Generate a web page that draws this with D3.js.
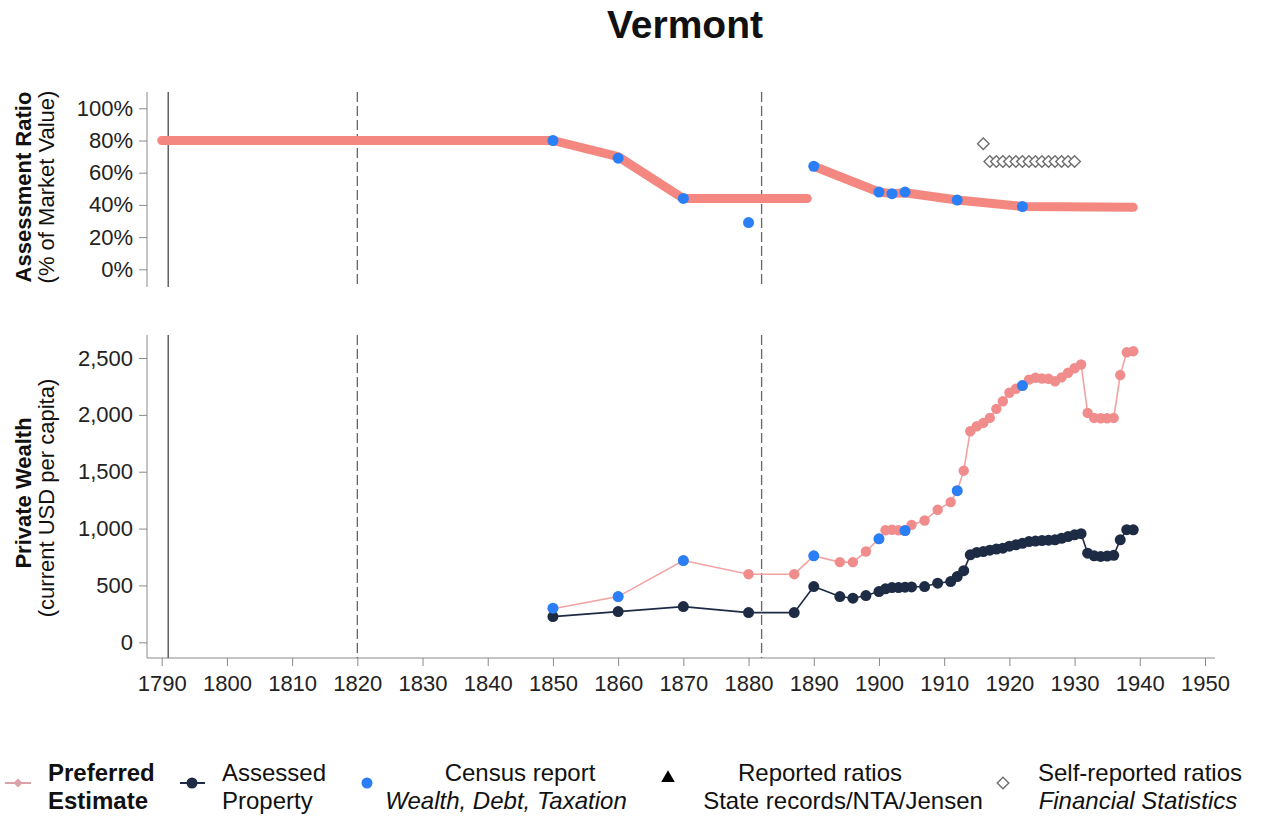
<!DOCTYPE html>
<html><head><meta charset="utf-8">
<script src="https://cdn.jsdelivr.net/npm/d3@7"></script>
<style>
body{margin:0;background:#fff}
text{font-family:"Liberation Sans",Arial,Helvetica,sans-serif;fill:#111}
</style>
</head><body>
<svg id="c" width="1267" height="816"></svg>
<script>
// ---------- DATA ----------
const chartTitle = "Vermont";
const xTicks = [1790,1800,1810,1820,1830,1840,1850,1860,1870,1880,1890,1900,1910,1920,1930,1940,1950];
const ratioTicks = [0,20,40,60,80,100];
const wealthTicks = [0,500,1000,1500,2000,2500];
const solidLineYears = [1791];
const dashedLineYears = [1820,1882];

// Top panel: preferred assessment ratio (%), two segments
const ratioYears1 = [1790,1850,1860,1870,1889];
const ratioVals1  = [80,80,70,44,44];
const ratioYears2 = [1890,1900,1902,1904,1912,1922,1939];
const ratioVals2  = [64,48,47,47.5,43,39,38.5];
// Census report ratios
const censusRatioYears = [1850,1860,1870,1880,1890,1900,1902,1904,1912,1922];
const censusRatioVals  = [80,69,44,29,64,48,47,48,43,39];
// Self-reported ratios (Financial Statistics)
const selfRatioYears = [1916,1917,1918,1919,1920,1921,1922,1923,1924,1925,1926,1927,1928,1929,1930];
const selfRatioVals  = [78,67,67,67,67,67,67,67,67,67,67,67,67,67,67];

// Bottom panel: private wealth per capita
const wealthYears = [1850,1860,1870,1880,1887,1890,1894,1896,1898,1900,1901,1902,1903,1904,1905,1907,1909,1911,1912,
  1913,1914,1915,1916,1917,1918,1919,1920,1921,1922,1923,1924,1925,1926,1927,1928,1929,1930,1931,1932,1933,1934,1935,1936,1937,1938,1939];
const preferredWealth = [295,402,719,599,599,760,705,705,798,910,985,990,985,983,1033,1071,1166,1233,1333,
  1509,1856,1900,1929,1973,2053,2120,2194,2230,2258,2310,2326,2320,2317,2296,2330,2370,2410,2443,2017,1973,1970,1970,1973,2350,2550,2560];
const assessedWealth = [226,270,314,261,261,490,402,388,411,446,470,481,481,485,487,490,520,534,578,
  630,769,790,798,810,820,828,845,857,870,886,890,895,898,901,915,930,945,955,784,760,755,758,765,901,990,989];
const censusWealthYears = [1850,1860,1870,1890,1900,1904,1912,1922];
const censusWealthVals  = [300,402,719,760,910,983,1333,2258];

// Legend
const legendLines1 = ["Preferred","Assessed","Census report","Reported ratios","Self-reported ratios"];
const legendLines2 = ["Estimate","Property","Wealth, Debt, Taxation","State records/NTA/Jensen","Financial Statistics"];

// ---------- STYLE ----------
const C = {pinkThick:"#f4877f", pink:"#f08c8c", pinkLine:"#f3a2a2", navy:"#1e2b44", blue:"#2b7ff6", grey:"#6f6f6f", axis:"#8a8a8a"};

const svg = d3.select("#c");
const x = d3.scaleLinear().domain([1790,1950]).range([161.7,1205]);
const yR = d3.scaleLinear().domain([0,100]).range([269.3,108.3]);
const yW = d3.scaleLinear().domain([0,2500]).range([642.3,358]);
const axisX = 147;

// title
svg.append("text").attr("x",685).attr("y",38).attr("text-anchor","middle")
  .style("font-size","39px").style("font-weight","bold").text(chartTitle);

// ----- y axes -----
function yAxis(scale, ticks, fmt, top, bottom){
  const g = svg.append("g").attr("transform",`translate(${axisX},0)`);
  g.call(d3.axisLeft(scale).tickValues(ticks).tickFormat(fmt).tickSize(8).tickPadding(6));
  g.select(".domain").remove();
  g.selectAll(".tick line").attr("stroke",C.axis);
  g.selectAll(".tick text").style("font-size","22px").style("fill","#222").attr("font-family",null);
  svg.append("line").attr("x1",axisX).attr("x2",axisX).attr("y1",top).attr("y2",bottom).attr("stroke",C.axis).attr("stroke-width",1);
}
yAxis(yR, ratioTicks, d=>d+"%", 92, 287);
yAxis(yW, wealthTicks, d3.format(","), 335, 658);

// x axis
const gx = svg.append("g").attr("transform","translate(0,658)");
gx.call(d3.axisBottom(x).tickValues(xTicks).tickFormat(d3.format("d")).tickSize(8).tickPadding(9));
gx.select(".domain").remove();
gx.selectAll(".tick line").attr("stroke",C.axis);
gx.selectAll(".tick text").style("font-size","22px").style("fill","#222").attr("font-family",null);
svg.append("line").attr("x1",axisX).attr("x2",1215).attr("y1",658).attr("y2",658).attr("stroke",C.axis);

// axis titles
function yTitle(cx, cy, txt, bold){
  svg.append("text").attr("transform",`translate(${cx},${cy}) rotate(-90)`).attr("text-anchor","middle")
    .style("font-size","22px").style("font-weight",bold?"bold":"normal").text(txt);
}
yTitle(31,187,"Assessment Ratio",true);
yTitle(54,187,"(% of Market Value)",false);
yTitle(31,493,"Private Wealth",true);
yTitle(54,498,"(current USD per capita)",false);

// reference lines
[[92,287],[335,658]].forEach(([t,b])=>{
  solidLineYears.forEach(yr=>svg.append("line").attr("x1",x(yr)).attr("x2",x(yr)).attr("y1",t).attr("y2",b)
    .attr("stroke","#555").attr("stroke-width",1.4));
  dashedLineYears.forEach(yr=>svg.append("line").attr("x1",x(yr)).attr("x2",x(yr)).attr("y1",t).attr("y2",b)
    .attr("stroke","#666").attr("stroke-width",1.3).attr("stroke-dasharray","10,4"));
});

// ----- top panel -----
const lineR = d3.line().x(d=>x(d[0])).y(d=>yR(d[1]));
[[ratioYears1,ratioVals1],[ratioYears2,ratioVals2]].forEach(([ys,vs])=>{
  svg.append("path").attr("d",lineR(ys.map((yr,i)=>[yr,vs[i]])))
    .attr("fill","none").attr("stroke",C.pinkThick).attr("stroke-width",9)
    .attr("stroke-linecap","round").attr("stroke-linejoin","round");
});
svg.append("g").selectAll("circle").data(censusRatioYears).join("circle")
  .attr("cx",d=>x(d)).attr("cy",(d,i)=>yR(censusRatioVals[i])).attr("r",5.5).attr("fill",C.blue);
const diamond = d3.symbol().type(d3.symbolDiamond2).size(85);
svg.append("g").selectAll("path").data(selfRatioYears).join("path")
  .attr("transform",(d,i)=>`translate(${x(d)},${yR(selfRatioVals[i])})`)
  .attr("d",diamond).attr("fill","#fff").attr("stroke",C.grey).attr("stroke-width",1.4);

// ----- bottom panel -----
const lineW = d3.line().x(d=>x(d[0])).y(d=>yW(d[1]));
const prefPts = wealthYears.map((yr,i)=>[yr,preferredWealth[i]]);
const assPts = wealthYears.map((yr,i)=>[yr,assessedWealth[i]]);
svg.append("path").attr("d",lineW(prefPts)).attr("fill","none").attr("stroke",C.pinkLine).attr("stroke-width",1.6);
svg.append("g").selectAll("circle").data(prefPts).join("circle")
  .attr("cx",d=>x(d[0])).attr("cy",d=>yW(d[1])).attr("r",5.2).attr("fill",C.pink);
svg.append("path").attr("d",lineW(assPts)).attr("fill","none").attr("stroke",C.navy).attr("stroke-width",1.6);
svg.append("g").selectAll("circle").data(assPts).join("circle")
  .attr("cx",d=>x(d[0])).attr("cy",d=>yW(d[1])).attr("r",5.5).attr("fill",C.navy);
svg.append("g").selectAll("circle").data(censusWealthYears).join("circle")
  .attr("cx",d=>x(d)).attr("cy",(d,i)=>yW(censusWealthVals[i])).attr("r",5.5).attr("fill",C.blue);

// ----- legend -----
const lg = svg.append("g");
const y1 = 781, y2 = 809, fs = "24px";
// 1 preferred
lg.append("line").attr("x1",5).attr("x2",31).attr("y1",783).attr("y2",783).attr("stroke","#dba0aa").attr("stroke-width",2);
lg.append("path").attr("transform","translate(18,783)").attr("d",d3.symbol().type(d3.symbolDiamond2).size(50)).attr("fill","#dba0aa");
lg.append("text").attr("x",48).attr("y",y1).style("font-size",fs).style("font-weight","bold").text(legendLines1[0]);
lg.append("text").attr("x",48).attr("y",y2).style("font-size",fs).style("font-weight","bold").text(legendLines2[0]);
// 2 assessed
lg.append("line").attr("x1",180).attr("x2",205).attr("y1",783).attr("y2",783).attr("stroke",C.navy).attr("stroke-width",2);
lg.append("circle").attr("cx",192).attr("cy",783).attr("r",5.5).attr("fill",C.navy);
lg.append("text").attr("x",222).attr("y",y1).style("font-size",fs).text(legendLines1[1]);
lg.append("text").attr("x",222).attr("y",y2).style("font-size",fs).text(legendLines2[1]);
// 3 census
lg.append("circle").attr("cx",367).attr("cy",783).attr("r",5.5).attr("fill",C.blue);
lg.append("text").attr("x",520).attr("y",y1).attr("text-anchor","middle").style("font-size",fs).text(legendLines1[2]);
lg.append("text").attr("x",506).attr("y",y2).attr("text-anchor","middle").style("font-size",fs).style("font-style","italic").text(legendLines2[2]);
// 4 reported
lg.append("path").attr("transform","translate(668,778)").attr("d",d3.symbol().type(d3.symbolTriangle).size(80)).attr("fill","#000");
lg.append("text").attr("x",820).attr("y",y1).attr("text-anchor","middle").style("font-size",fs).text(legendLines1[3]);
lg.append("text").attr("x",843).attr("y",y2).attr("text-anchor","middle").style("font-size",fs).text(legendLines2[3]);
// 5 self-reported
lg.append("path").attr("transform","translate(1003,783)").attr("d",diamond).attr("fill","#fff").attr("stroke",C.grey).attr("stroke-width",1.4);
lg.append("text").attr("x",1140).attr("y",y1).attr("text-anchor","middle").style("font-size",fs).text(legendLines1[4]);
lg.append("text").attr("x",1138).attr("y",y2).attr("text-anchor","middle").style("font-size",fs).style("font-style","italic").text(legendLines2[4]);
</script>
</body></html>
